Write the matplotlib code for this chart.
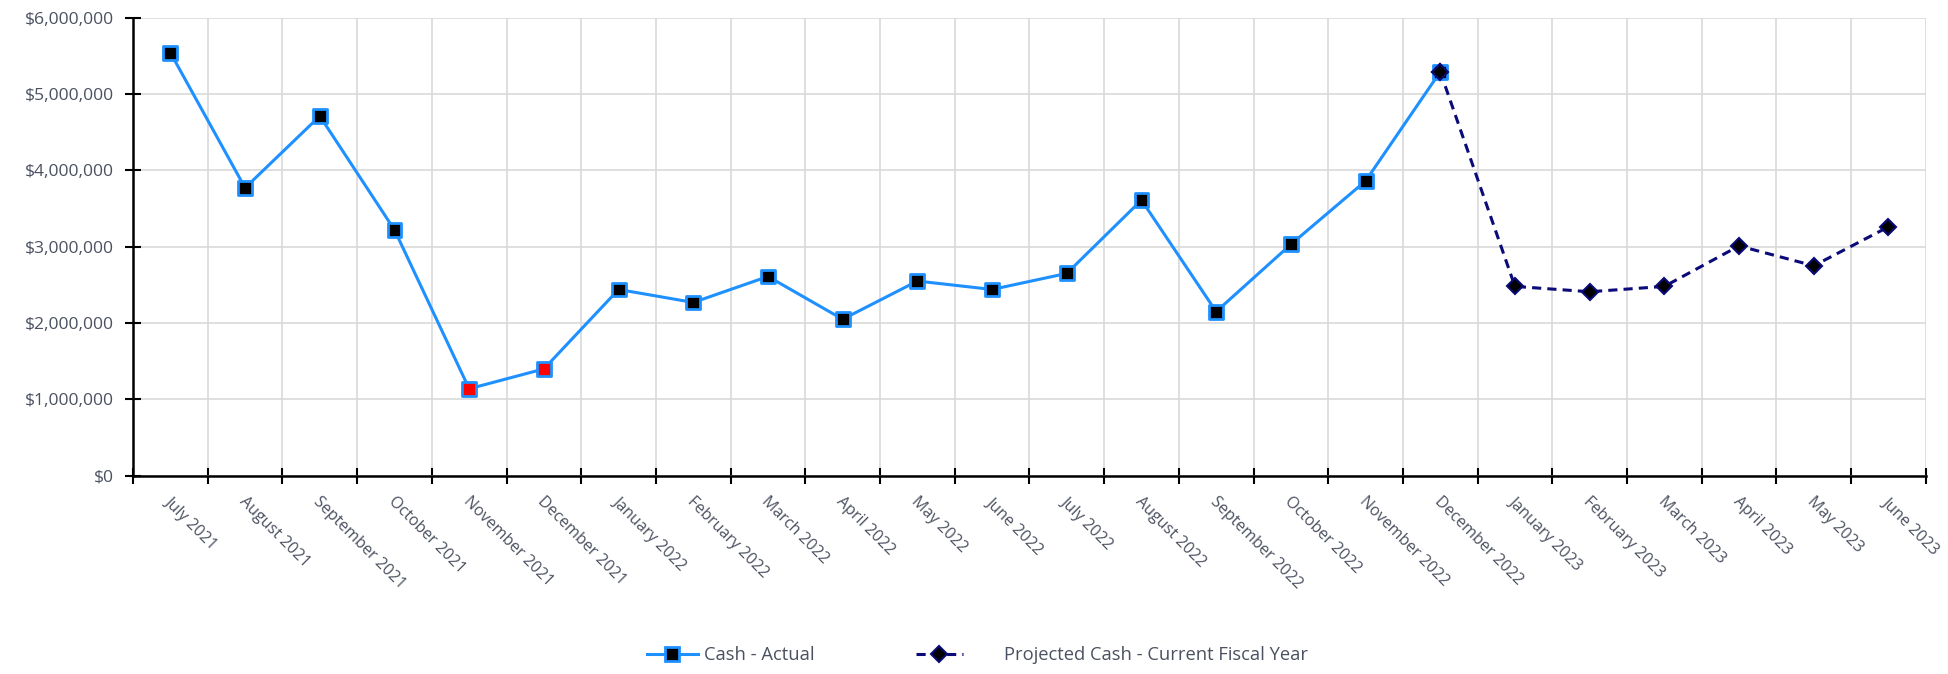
import matplotlib
matplotlib.use("Agg")
import matplotlib.pyplot as plt
import matplotlib.transforms as mtransforms
from matplotlib.ticker import FuncFormatter
from matplotlib.lines import Line2D

plt.rcParams["font.family"] = ["Open Sans", "DejaVu Sans"]

months = [
    "July 2021", "August 2021", "September 2021", "October 2021",
    "November 2021", "December 2021", "January 2022", "February 2022",
    "March 2022", "April 2022", "May 2022", "June 2022", "July 2022",
    "August 2022", "September 2022", "October 2022", "November 2022",
    "December 2022", "January 2023", "February 2023", "March 2023",
    "April 2023", "May 2023", "June 2023",
]

# actual cash, July 2021 - December 2022
cash_actual = [
    5540000, 3770000, 4710000, 3220000, 1140000, 1400000, 2440000,
    2270000, 2610000, 2050000, 2550000, 2440000, 2650000, 3610000,
    2150000, 3030000, 3860000, 5290000,
]
# projection starts from the last actual month (December 2022)
cash_projected = [5290000, 2480000, 2410000, 2480000, 3010000, 2750000, 3260000]
low_cash_months = ["November 2021", "December 2021"]

text_color = "#4b5160"
grid_color = "#d9d9d9"
blue = "#1e90ff"
navy = "#0a0a78"

fig = plt.figure(figsize=(19.48, 6.74), dpi=100)
ax = fig.add_axes([0.0683, 0.294, 0.9203, 0.68])

x_actual = list(range(len(cash_actual)))
x_proj = list(range(len(cash_actual) - 1, len(cash_actual) - 1 + len(cash_projected)))

ax.plot(x_proj, cash_projected, color=navy, lw=2.2, ls=(0, (3, 2)),
        marker="D", ms=8, mfc="black", mec=navy, mew=1.5, zorder=3)

faces = ["red" if months[i] in low_cash_months else "black" for i in x_actual]
ax.plot(x_actual, cash_actual, color=blue, lw=2.2, zorder=2)
ax.scatter(x_actual, cash_actual, marker="s", s=100, c=faces,
           edgecolors=blue, linewidths=2, zorder=4)
# projected marker drawn on top at the hand-off month
ax.plot(x_proj[:1], cash_projected[:1], ls="none", marker="D", ms=8,
        mfc="black", mec=navy, mew=1.5, zorder=5)

ax.set_xlim(-0.5, len(months) - 0.5)
ax.set_ylim(0, 6000000)
ax.set_yticks(range(0, 6000001, 1000000))
ax.yaxis.set_major_formatter(FuncFormatter(lambda v, p: f"${v:,.0f}"))

# category boundaries carry tick marks + grid, labels sit at centres
ax.set_xticks([i - 0.5 for i in range(len(months) + 1)])
ax.set_xticklabels([])
ax.set_xticks(range(len(months)), minor=True)
ax.set_xticklabels(months, minor=True, rotation=-45, ha="left",
                   rotation_mode="anchor")
ax.tick_params(axis="x", which="minor", length=0, pad=13,
               labelsize=11.5, labelcolor=text_color)
ax.tick_params(axis="x", which="major", direction="inout", length=11,
               width=1.5, color="black")
ax.tick_params(axis="y", direction="inout", length=11, width=1.5,
               pad=8, labelsize=12.6, labelcolor=text_color)

offset = mtransforms.ScaledTranslation(2 / 100, 0, fig.dpi_scale_trans)
for lbl in ax.xaxis.get_minorticklabels():
    lbl.set_transform(lbl.get_transform() + offset)

ax.grid(True, which="major", color=grid_color, lw=1.2)
ax.set_axisbelow(True)
for side in ["top", "right"]:
    ax.spines[side].set_visible(False)
for side in ["left", "bottom"]:
    ax.spines[side].set_linewidth(1.8)
    ax.spines[side].set_color("black")

h1 = Line2D([], [], color=blue, lw=2.2, marker="s", ms=10, mfc="black",
            mec=blue, mew=2)
h2 = Line2D([], [], color=navy, lw=2.2, ls=(0, (3, 2)), marker="D", ms=8,
            mfc="black", mec=navy, mew=1.5)
fig.legend([h1], ["Cash - Actual"], loc="center left",
           bbox_to_anchor=(0.332, 0.028), frameon=False, fontsize=13.2,
           handlelength=2.8, handletextpad=0.33, labelcolor=text_color,
           borderaxespad=0, borderpad=0)
fig.legend([h2], ["Projected Cash - Current Fiscal Year"],
           loc="center left", bbox_to_anchor=(0.470, 0.028),
           frameon=False, fontsize=13.2, handlelength=2.6,
           handletextpad=2.2, labelcolor=text_color,
           borderaxespad=0, borderpad=0)

fig.savefig("out.png", dpi=100)
